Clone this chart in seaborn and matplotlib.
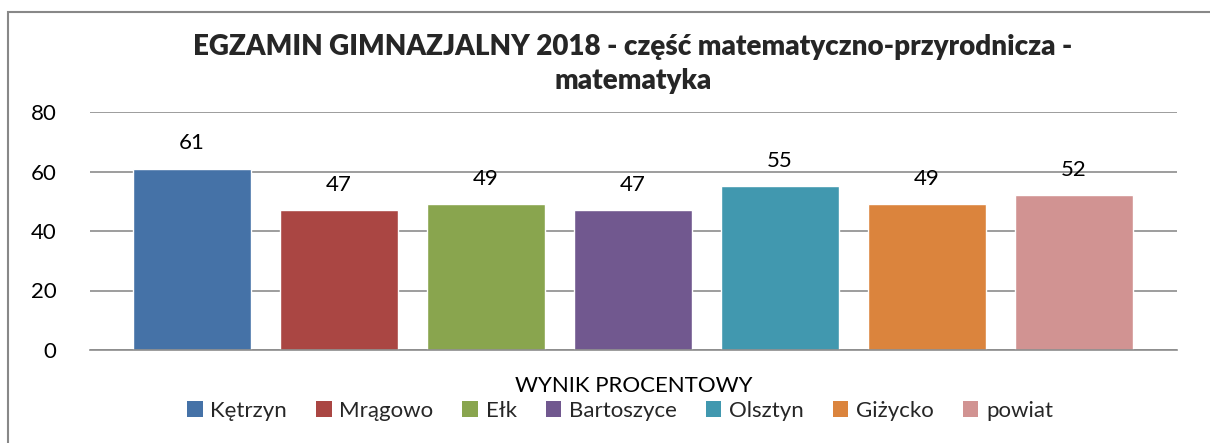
import matplotlib
matplotlib.use("Agg")
import matplotlib.pyplot as plt
from matplotlib.patches import Patch, Rectangle
import seaborn as sns
import pandas as pd

cities = ["Kętrzyn", "Mrągowo", "Ełk", "Bartoszyce", "Olsztyn", "Giżycko", "powiat"]
values = [61, 47, 49, 47, 55, 49, 52]
colors = ["#4572A7", "#AA4643", "#89A54E", "#71588F", "#4198AF", "#DB843D", "#D19392"]
yticks = [0, 20, 40, 60, 80]
title = "EGZAMIN GIMNAZJALNY 2018 - część matematyczno-przyrodnicza -\nmatematyka"
xlabel = "WYNIK PROCENTOWY"

sns.set_theme(style="white")
plt.rcParams["font.family"] = ["Lato", "DejaVu Sans"]

df = pd.DataFrame({"city": cities, "value": values})

fig = plt.figure(figsize=(12.10, 4.43), dpi=100)
ax = fig.add_axes([90/1210, 1-350/443, (1177-90)/1210, (350-112)/443])

sns.barplot(data=df, x="city", y="value", hue="city", palette=colors,
            width=0.803, legend=False, ax=ax, saturation=1)

fs = 16
ax.set_xlim(-0.694, 6.70)
ax.set_ylim(0, 80)
ax.set_yticks(yticks)
ax.set_yticklabels([str(t) for t in yticks], fontsize=fs, color="black")
ax.tick_params(axis="y", length=0, pad=24)
ax.set_xticks([])
ax.set_xticklabels([])
ax.set_ylabel("")
ax.yaxis.grid(True, color="#8C8C8C", linewidth=1.2)
ax.set_axisbelow(True)
for s in ["left", "right", "top"]:
    ax.spines[s].set_visible(False)
ax.spines["bottom"].set_color("#8C8C8C")
ax.spines["bottom"].set_linewidth(1.2)

for cont in ax.containers:
    ax.bar_label(cont, fmt="%d", padding=11, fontsize=fs, color="black")

ax.set_xlabel(xlabel, fontsize=fs, color="black", labelpad=19)

fig.text(633/1210, 1-64/443, title, ha="center", va="center", fontsize=20,
         fontweight="heavy", linespacing=1.42)

handles = [Patch(facecolor=c, edgecolor="none") for c in colors]
fig.legend(handles, cities, loc="center", bbox_to_anchor=(620/1210, 1-411/443),
           ncol=7, frameon=False, fontsize=fs, handlelength=0.7, handleheight=0.7,
           handletextpad=0.35, columnspacing=1.3, borderaxespad=0)

fig.patches.append(Rectangle((8/1210, -0.1), 1.5, 1-12/443+0.1, transform=fig.transFigure,
                             fill=False, edgecolor="#888888", linewidth=1.5))

fig.savefig("out.png", dpi=100)
